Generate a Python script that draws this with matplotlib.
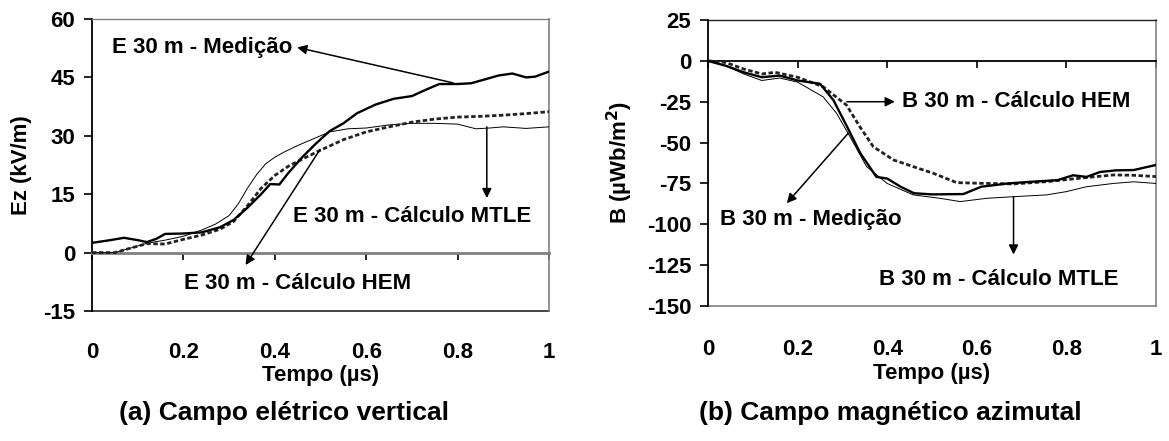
import matplotlib
matplotlib.use("Agg")
import matplotlib.pyplot as plt

plt.rcParams['font.family'] = ['Liberation Sans', 'DejaVu Sans']
plt.rcParams['font.weight'] = 'bold'

# ---------------- Panel (a): vertical electric field ----------------
ea_med_t = [0, 0.04, 0.07, 0.10, 0.12, 0.14, 0.16, 0.20, 0.24, 0.28, 0.31, 0.34, 0.37, 0.39,
            0.41, 0.43, 0.46, 0.49, 0.52, 0.55, 0.58, 0.62, 0.66, 0.70, 0.73, 0.76, 0.80,
            0.83, 0.86, 0.89, 0.92, 0.95, 0.97, 1.00]
ea_med_v = [2.5, 3.2, 3.8, 3.2, 2.7, 3.5, 4.8, 4.9, 5.2, 6.5, 8.4, 11.5, 15.0, 17.6,
            17.5, 20.5, 24.5, 28.0, 31.2, 33.2, 35.8, 38.0, 39.5, 40.2, 41.8, 43.3, 43.3,
            43.5, 44.5, 45.5, 46.0, 45.0, 45.2, 46.5]

ea_mtle_t = [0, 0.05, 0.08, 0.12, 0.16, 0.20, 0.24, 0.27, 0.30, 0.32, 0.34, 0.36, 0.38, 0.40,
             0.42, 0.45, 0.48, 0.52, 0.56, 0.60, 0.65, 0.70, 0.75, 0.80, 0.84, 0.87, 0.90,
             0.95, 1.00]
ea_mtle_v = [0, 0, 1.0, 2.4, 3.2, 4.2, 5.8, 7.3, 9.5, 12.5, 16.5, 20.0, 22.8, 24.5,
             25.8, 27.5, 29.0, 31.0, 31.8, 32.0, 32.8, 33.2, 33.2, 33.0, 31.8, 32.0, 32.3,
             31.9, 32.3]

ea_hem_t = [0, 0.05, 0.08, 0.12, 0.16, 0.20, 0.24, 0.28, 0.31, 0.34, 0.37, 0.40, 0.43, 0.46,
            0.50, 0.55, 0.60, 0.65, 0.70, 0.75, 0.80, 0.85, 0.90, 0.95, 1.00]
ea_hem_v = [0, 0, 1.0, 2.3, 2.2, 3.4, 4.5, 6.0, 8.0, 12.0, 16.5, 19.8, 22.2, 24.0,
            26.3, 29.0, 31.0, 32.3, 33.5, 34.3, 34.8, 35.0, 35.3, 35.7, 36.2]

# ---------------- Panel (b): azimuthal magnetic field ----------------
b_med_t = [0, 0.04, 0.08, 0.12, 0.16, 0.20, 0.25, 0.28, 0.31, 0.34, 0.376, 0.40, 0.43,
           0.46, 0.50, 0.57, 0.61, 0.67, 0.72, 0.78, 0.815, 0.845, 0.875, 0.91, 0.95, 1.00]
b_med_v = [0, -3, -7, -10, -9, -12, -14, -24, -40, -56.5, -71, -72, -77,
           -81, -81.7, -81.5, -77, -75, -74, -73, -70, -71, -68, -67, -66.8, -63.7]

b_mtle_t = [0, 0.04, 0.08, 0.12, 0.16, 0.20, 0.257, 0.287, 0.317, 0.354, 0.40, 0.458,
            0.518, 0.563, 0.622, 0.682, 0.756, 0.80, 0.845, 0.905, 0.95, 1.00]
b_mtle_v = [0, -3, -8, -12, -10.5, -13, -22, -32, -46.4, -64.7, -75, -82,
            -84.1, -86.1, -84.1, -83.1, -82, -80, -77, -75, -74, -75]

b_hem_t = [0, 0.04, 0.08, 0.12, 0.15, 0.20, 0.257, 0.309, 0.339, 0.369, 0.414, 0.458,
           0.503, 0.555, 0.607, 0.682, 0.756, 0.83, 0.905, 0.95, 1.00]
b_hem_v = [0, -1, -5, -8, -7, -10, -15.8, -27, -40.3, -52.5, -60.6, -64.7,
           -68.8, -74.5, -74.9, -75.3, -73.9, -71.8, -69.8, -70, -70.8]

xticks = [0, 0.2, 0.4, 0.6, 0.8, 1.0]
xtick_labels = ["0", "0.2", "0.4", "0.6", "0.8", "1"]
ea_yticks = [-15, 0, 15, 30, 45, 60]
b_yticks = [-150, -125, -100, -75, -50, -25, 0, 25]

FS = 16
fig = plt.figure(figsize=(11.69, 4.41), dpi=100)

def style_axes(ax, yticks, ylim, zero_color, zero_lw, top_color, bottom_color, pad):
    ax.set_xlim(0, 1)
    ax.set_ylim(*ylim)
    ax.set_yticks(yticks)
    ax.set_yticklabels([str(v) for v in yticks], fontsize=FS, fontweight='bold')
    ax.tick_params(axis='y', direction='out', length=6, width=1.2, pad=6)
    # x-axis drawn at the zero line, labels at the bottom of the plot area
    ax.spines['bottom'].set_position(('data', 0))
    ax.spines['bottom'].set_color(zero_color)
    ax.spines['bottom'].set_linewidth(zero_lw)
    ax.set_xticks(xticks)
    ax.tick_params(axis='x', direction='out', length=5, width=1.2,
                   labelbottom=False, color='black')
    ax.spines['left'].set_color('black')
    ax.spines['left'].set_linewidth(1.3)
    ax.spines['top'].set_color(top_color)
    ax.spines['top'].set_linewidth(1.0)
    ax.spines['right'].set_color('#808080')
    ax.spines['right'].set_linewidth(1.2)
    sec = ax.secondary_xaxis('bottom')
    sec.set_xticks(xticks)
    sec.set_xticklabels(xtick_labels, fontsize=FS, fontweight='bold')
    sec.tick_params(length=0, pad=pad)
    sec.spines['bottom'].set_color(bottom_color)
    sec.spines['bottom'].set_linewidth(1.2)
    return sec

arrow_kw = dict(arrowstyle='-|>', color='black', lw=1.1, mutation_scale=14,
                shrinkA=0, shrinkB=0)

# ---------- (a) ----------
axa = fig.add_axes([0.0787, 0.2948, 0.3909, 0.6621])
seca = style_axes(axa, ea_yticks, (-15, 60), '#808080', 2.0, '#808080', '#222222', 22)
axa.plot(ea_mtle_t, ea_mtle_v, color='black', lw=0.7, zorder=3)
axa.plot(ea_hem_t, ea_hem_v, color='#222222', lw=2.0, ls=(0, (1.6, 0.9)), zorder=3)
axa.plot(ea_med_t, ea_med_v, color='black', lw=1.7, zorder=4)
axa.set_ylabel("Ez (kV/m)", fontsize=FS, fontweight='bold')
axa.yaxis.set_label_coords(-0.131, 0.5)
seca.set_xlabel("Tempo (\u00b5s)", fontsize=FS, fontweight='bold', labelpad=2)

axa.annotate('', xy=(0.449, 52.7), xytext=(0.79, 43.6), arrowprops=arrow_kw)
axa.text(0.043, 52.6, "E 30 m - Medi\u00e7\u00e3o", fontsize=FS, fontweight='bold',
         ha='left', va='center')
axa.annotate('', xy=(0.864, 14.0), xytext=(0.864, 32.3), arrowprops=arrow_kw)
axa.text(0.70, 9.4, "E 30 m - C\u00e1lculo MTLE", fontsize=FS, fontweight='bold',
         ha='center', va='center')
axa.annotate('', xy=(0.336, -3.2), xytext=(0.499, 26.5), arrowprops=arrow_kw)
axa.text(0.45, -7.9, "E 30 m - C\u00e1lculo HEM", fontsize=FS, fontweight='bold',
         ha='center', va='center')

# ---------- (b) ----------
axb = fig.add_axes([0.6056, 0.3061, 0.3833, 0.6485])
secb = style_axes(axb, b_yticks, (-150, 25), 'black', 1.3, '#222222', '#808080', 24)
axb.plot(b_mtle_t, b_mtle_v, color='black', lw=0.7, zorder=3)
axb.plot(b_hem_t, b_hem_v, color='#222222', lw=2.0, ls=(0, (1.6, 0.9)), zorder=3)
axb.plot(b_med_t, b_med_v, color='black', lw=1.7, zorder=4)
axb.set_ylabel("B (\u00b5Wb/m$^\\mathbf{2}$)", fontsize=FS, fontweight='bold')
axb.yaxis.set_label_coords(-0.163, 0.5)
secb.set_xlabel("Tempo (\u00b5s)", fontsize=FS, fontweight='bold', labelpad=2)

axb.annotate('', xy=(0.417, -25), xytext=(0.31, -25), arrowprops=arrow_kw)
axb.text(0.432, -25, "B 30 m - C\u00e1lculo HEM", fontsize=FS, fontweight='bold',
         ha='left', va='center')
axb.annotate('', xy=(0.176, -87.1), xytext=(0.313, -44.3), arrowprops=arrow_kw)
axb.text(0.027, -97, "B 30 m - Medi\u00e7\u00e3o", fontsize=FS, fontweight='bold',
         ha='left', va='center')
axb.annotate('', xy=(0.682, -118.5), xytext=(0.682, -83.1), arrowprops=arrow_kw)
axb.text(0.65, -134, "B 30 m - C\u00e1lculo MTLE", fontsize=FS, fontweight='bold',
         ha='center', va='center')

# ---------- captions ----------
fig.text(284 / 1169, 1 - 413 / 441, "(a) Campo el\u00e9trico vertical", fontsize=19,
         fontweight='bold', ha='center', va='center')
fig.text(890 / 1169, 1 - 413 / 441, "(b) Campo magn\u00e9tico azimutal", fontsize=19,
         fontweight='bold', ha='center', va='center')

fig.savefig("out.png", dpi=100)
